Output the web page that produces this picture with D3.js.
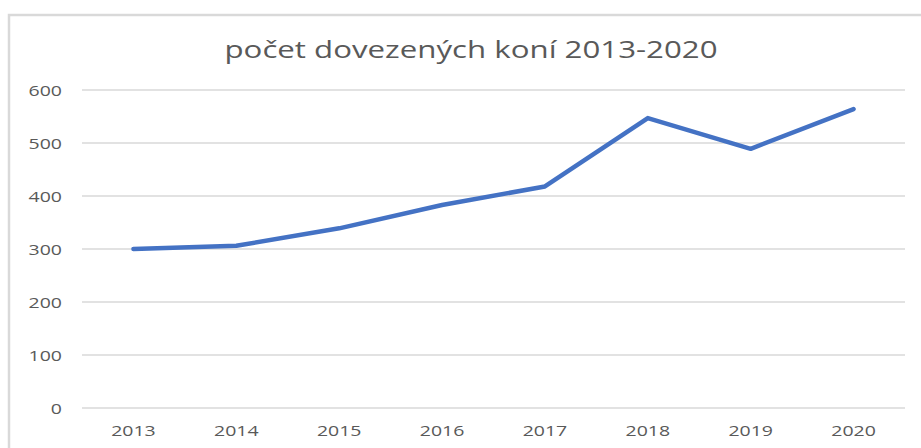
<!DOCTYPE html>
<html><head><meta charset="utf-8">
<script src="https://cdn.jsdelivr.net/npm/d3@7"></script>
<style>body{margin:0;background:#fff;}svg{display:block;}</style>
</head><body>
<svg id="c" width="921" height="448"></svg>
<script>
const titleText = "počet dovezených koní 2013-2020";
const years = ["2013","2014","2015","2016","2017","2018","2019","2020"];
const values = [300, 306, 339, 383, 418, 547, 489, 564];
const yTicks = [0,100,200,300,400,500,600];

const svg = d3.select("#c");
const W = 921, H = 448;
const font = "'Open Sans', sans-serif";
const textColor = "#595959";

function stretch(sel, k) {
  sel.each(function() {
    const n = this.getComputedTextLength();
    d3.select(this).attr("textLength", n * k).attr("lengthAdjust", "spacingAndGlyphs");
  });
}

// chart border
svg.append("rect").attr("x",9).attr("y",15).attr("width",W+10).attr("height",H+10)
  .attr("fill","#fff").attr("stroke","#d9d9d9").attr("stroke-width",2.5);

const x = d3.scaleBand().domain(years).range([82,905]);
const y = d3.scaleLinear().domain([0,600]).range([408,90]);

// gridlines
svg.append("g").selectAll("line").data(yTicks).join("line")
  .attr("x1",82).attr("x2",905).attr("y1",d=>y(d)).attr("y2",d=>y(d))
  .attr("stroke","#d9d9d9").attr("stroke-width",1.5);

// y axis labels
const yAxis = d3.axisLeft(y).tickValues(yTicks).tickSize(0).tickPadding(0);
const gy = svg.append("g").attr("transform","translate(62,1)").call(yAxis);
gy.select(".domain").remove();
gy.selectAll("text").attr("fill",textColor).style("font-family",font).style("font-size","15px");
stretch(gy.selectAll("text"), 1.3);

// x axis labels
const xAxis = d3.axisBottom(x).tickSize(0).tickPadding(0);
const gx = svg.append("g").attr("transform","translate(0,425)").call(xAxis);
gx.select(".domain").remove();
gx.selectAll("text").attr("fill",textColor).style("font-family",font).style("font-size","15px");
stretch(gx.selectAll("text"), 1.3);

// line
const line = d3.line().x((d,i)=>x(years[i])+x.bandwidth()/2).y(d=>y(d));
svg.append("path").datum(values).attr("d",line).attr("fill","none")
  .attr("stroke","#4472c4").attr("stroke-width",4.5)
  .attr("stroke-linecap","round").attr("stroke-linejoin","round");

// title
svg.append("text").attr("x",471).attr("y",58).attr("text-anchor","middle")
  .attr("fill",textColor).style("font-family",font).style("font-size","23px")
  .attr("textLength",493).attr("lengthAdjust","spacingAndGlyphs")
  .text(titleText);
</script>
</body></html>
